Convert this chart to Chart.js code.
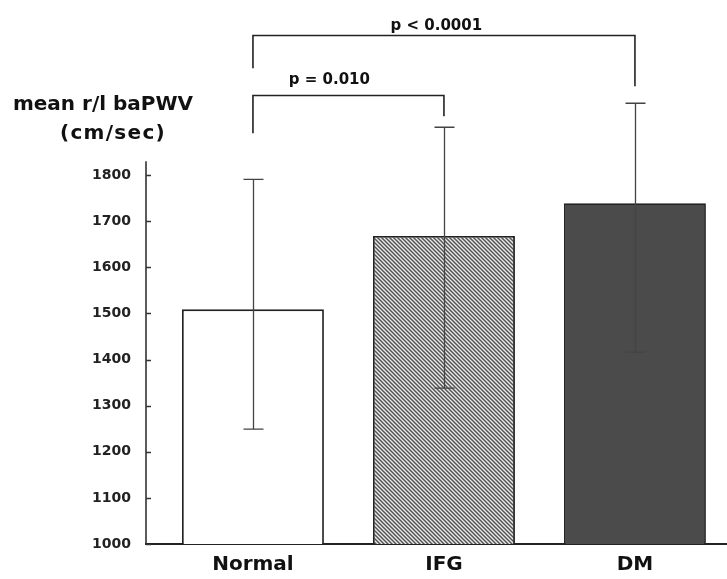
<!DOCTYPE html>
<html>
<head>
<meta charset="utf-8">
<script src="https://cdn.jsdelivr.net/npm/chart.js@4/dist/chart.umd.min.js"></script>
<style>
  html, body { margin: 0; padding: 0; background: #fff; }
  #wrap { width: 727px; height: 579px; }
</style>
</head>
<body>
<div id="wrap"><canvas id="chart"></canvas></div>
<script>
// values
const groups = ['Normal', 'IFG', 'DM'];
const meanPwv = [1509, 1668, 1739];
const sdUpper = [1791, 1904, 1956];
const sdLower = [1249, 1338, 1416];
const yTicks = [1000, 1100, 1200, 1300, 1400, 1500, 1600, 1700, 1800];

// significance brackets (group index / pwv units)
const pTexts = ['p = 0.010', 'p < 0.0001'];
const pFrom = [0, 0];
const pTo = [1, 2];
const pLevel = [1973, 2103];
const pLegLeft = [1891, 2032];
const pLegRight = [1928, 1993];
const pTextX = [0.40, 0.96];
const pTextY = [1997, 2116];

const axisTop = 1830;
const FONT = '"DejaVu Sans", "Liberation Sans", Arial, sans-serif';

function hatch() {
    let c = document.createElement('canvas');
    c.width = 4;
    c.height = 4;
    let g = c.getContext('2d');
    g.fillStyle = '#ececec';
    g.fillRect(0, 0, 4, 4);
    g.strokeStyle = '#555';
    g.lineWidth = 1.5;
    g.beginPath();
    g.moveTo(-1, -1); g.lineTo(5, 5);
    g.moveTo(-1, 3); g.lineTo(1, 5);
    g.moveTo(3, -1); g.lineTo(5, 1);
    g.stroke();
    return g.createPattern(c, 'repeat');
}

const decor = {
    id: 'decor',
    afterDatasetsDraw(chart) {
        const ctx = chart.ctx;
        const x = chart.scales.x;
        const y = chart.scales.y;
        const left = chart.chartArea.left;
        ctx.save();

        // short y axis with inward ticks
        ctx.strokeStyle = '#333';
        ctx.lineWidth = 1.6;
        ctx.beginPath();
        ctx.moveTo(left, y.getPixelForValue(1000));
        ctx.lineTo(left, y.getPixelForValue(axisTop));
        yTicks.forEach(t => {
            let py = Math.round(y.getPixelForValue(t)) + 0.5;
            ctx.moveTo(left, py);
            ctx.lineTo(left + 5, py);
        });
        ctx.stroke();

        // error bars
        ctx.strokeStyle = '#444';
        ctx.lineWidth = 1.3;
        ctx.beginPath();
        groups.forEach((g, i) => {
            let px = Math.round(x.getPixelForValue(i)) + 0.5;
            let top = y.getPixelForValue(sdUpper[i]);
            let bot = y.getPixelForValue(sdLower[i]);
            ctx.moveTo(px, top);
            ctx.lineTo(px, bot);
            ctx.moveTo(px - 10, top);
            ctx.lineTo(px + 10, top);
            ctx.moveTo(px - 10, bot);
            ctx.lineTo(px + 10, bot);
        });
        ctx.stroke();

        // brackets
        ctx.strokeStyle = '#222';
        ctx.lineWidth = 1.6;
        ctx.fillStyle = '#111';
        ctx.font = 'bold 15px ' + FONT;
        ctx.textAlign = 'center';
        ctx.textBaseline = 'alphabetic';
        pTexts.forEach((t, i) => {
            let x1 = x.getPixelForValue(pFrom[i]);
            let x2 = x.getPixelForValue(pTo[i]);
            let py = y.getPixelForValue(pLevel[i]);
            ctx.beginPath();
            ctx.moveTo(x1, y.getPixelForValue(pLegLeft[i]));
            ctx.lineTo(x1, py);
            ctx.lineTo(x2, py);
            ctx.lineTo(x2, y.getPixelForValue(pLegRight[i]));
            ctx.stroke();
            ctx.fillText(t, x.getPixelForValue(pTextX[i]), y.getPixelForValue(pTextY[i]));
        });

        // axis title, top left
        ctx.font = 'bold 20px ' + FONT;
        ctx.fillText('mean r/l baPWV', 103, 110);
        ctx.letterSpacing = '1.3px';
        ctx.fillText('(cm/sec)', 113, 139);
        ctx.restore();
    }
};

new Chart(document.getElementById('chart'), {
    type: 'bar',
    data: {
        datasets: [{
            data: groups.map((g, i) => ({ x: i, y: meanPwv[i] })),
            backgroundColor: ['#ffffff', hatch(), '#4b4b4b'],
            borderColor: '#222',
            borderWidth: 1.8,
            barPercentage: 0.743,
            categoryPercentage: 1
        }]
    },
    options: {
        responsive: true,
        maintainAspectRatio: false,
        animation: false,
        layout: { padding: 0 },
        plugins: { legend: { display: false }, tooltip: { enabled: false } },
        scales: {
            x: {
                type: 'linear',
                offset: false,
                min: -0.56,
                max: 2.482,
                grid: { display: false, offset: false, drawTicks: false },
                border: { display: true, color: '#222', width: 2 },
                afterBuildTicks: s => { s.ticks = groups.map((g, i) => ({ value: i })); },
                afterFit: s => { s.height = 35; s.paddingLeft = 0; s.paddingRight = 0; },
                ticks: {
                    autoSkip: false,
                    maxRotation: 0,
                    padding: 9,
                    color: '#111',
                    font: { family: FONT, size: 20, weight: 'bold' },
                    callback: v => groups[v]
                }
            },
            y: {
                min: 1000,
                max: 2180,
                grid: { display: false, drawTicks: false },
                border: { display: false },
                afterBuildTicks: s => { s.ticks = yTicks.map(v => ({ value: v })); },
                afterFit: s => { s.width = 146; s.paddingTop = 0; s.paddingBottom = 0; },
                ticks: {
                    padding: 15,
                    color: '#222',
                    font: { family: FONT, size: 14, weight: 'bold' },
                    callback: v => String(v)
                }
            }
        }
    },
    plugins: [decor]
});
</script>
</body>
</html>
